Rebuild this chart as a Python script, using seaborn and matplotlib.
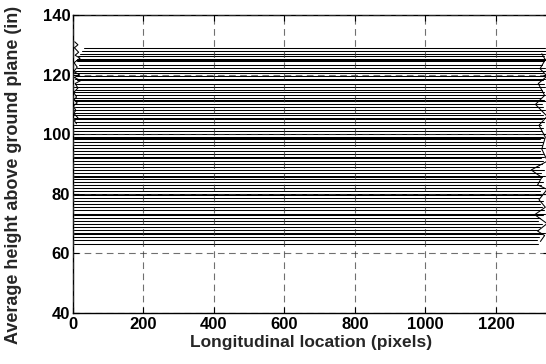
import matplotlib
matplotlib.use("Agg")
import matplotlib.pyplot as plt
import seaborn as sns
import pandas as pd

# Average height (in) of each horizontal trace
heights = [128.9, 128.0, 127.0, 126.2, 125.3, 124.8, 124.5, 123.3, 122.3, 121.3,
           120.4, 119.5, 118.4, 118.1, 117.0, 116.0, 115.0, 114.0, 113.1, 112.3,
           111.6, 111.3, 110.2, 109.2, 108.2, 107.2, 106.3, 105.5, 105.2, 104.1,
           103.0, 102.0, 101.0, 100.0, 99.2, 98.8, 98.5, 97.4, 96.4, 95.4,
           94.4, 93.4, 92.4, 92.1, 91.0, 90.0, 89.0, 88.0, 87.0, 86.1,
           85.8, 84.8, 83.8, 82.8, 81.8, 80.8, 80.0, 79.7, 78.6, 77.6,
           76.6, 75.6, 74.6, 73.3, 73.0, 72.0, 71.0, 70.0, 69.0, 68.0,
           66.9, 66.6, 65.6, 64.6, 63.2]
# Longitudinal start / end of each trace (pixels)
starts = [30, 25, 20, 15, 10, 8, 12, 18, 10, 6,
          4, 8, 5, 10, 6, 4, 8, 3, 6, 4,
          3, 5, 2, 6, 4, 3, 2, 4, 3, 5,
          3, 2, 4, 3, 2, 3, 2, 4, 3, 2,
          3, 4, 2, 3, 2, 3, 2, 4, 2, 3,
          2, 3, 2, 3, 2, 3, 2, 3, 2, 3,
          2, 3, 2, 3, 2, 3, 2, 3, 2, 3,
          2, 3, 2, 3, 2]
ends = [1340, 1342, 1338, 1335, 1340, 1343, 1336, 1330, 1340, 1342,
        1334, 1338, 1340, 1332, 1336, 1340, 1330, 1335, 1340, 1328,
        1336, 1342, 1330, 1334, 1338, 1326, 1332, 1340, 1330, 1336,
        1328, 1334, 1330, 1340, 1332, 1336, 1326, 1334, 1330, 1338,
        1326, 1332, 1336, 1328, 1334, 1330, 1322, 1336, 1328, 1340,
        1330, 1324, 1332, 1328, 1336, 1326, 1340, 1330, 1322, 1334,
        1326, 1330, 1336, 1340, 1332, 1326, 1320, 1330, 1324, 1318,
        1340, 1330, 1322, 1316, 1320]

# Small hand-read wiggles at the ragged ends of the traces
left_wig_x = [5, 14, 4, 16, 6, 20, 3, 12, 2, 18, 4, 22, 6, 14, 2, 10, 3, 12, 1, 8, 2, 14, 4, 10]
left_wig_y = [131, 130, 129, 127.5, 126.5, 125.5, 124, 122.5, 121, 120, 119, 118,
              117, 115.5, 114, 112.5, 111.5, 110.5, 109.5, 108, 107, 105.5, 104.5, 103.5]
right_wig_x = [1330, 1340, 1325, 1345, 1320, 1338, 1312, 1345, 1322, 1340, 1330, 1346,
               1300, 1330, 1318, 1345, 1322, 1340, 1310, 1345, 1318, 1338, 1326]
right_wig_y = [127, 125, 122, 119.5, 117, 113, 110, 106, 103, 99, 95, 91,
               88, 85.5, 83, 81.5, 78, 75.5, 73, 70, 67.5, 66, 64]

rows = []
for i, (h, s, e) in enumerate(zip(heights, starts, ends)):
    rows.append((i, s, h))
    rows.append((i, e, h))
n = len(heights)
for x, y in zip(left_wig_x, left_wig_y):
    rows.append((n, x, y))
for x, y in zip(right_wig_x, right_wig_y):
    rows.append((n + 1, x, y))
df = pd.DataFrame(rows, columns=["trace", "x", "y"])

sns.set_theme(style="white")
plt.rcParams["font.family"] = ["Liberation Sans", "DejaVu Sans"]
plt.rcParams["font.weight"] = "bold"

fig = plt.figure(figsize=(5.46, 3.64), dpi=100)
ax = fig.add_axes([73 / 546, 51 / 364, (548.5 - 73) / 546, 298 / 364])

sns.lineplot(data=df, x="x", y="y", units="trace", estimator=None, sort=False,
             color="black", linewidth=0.75, ax=ax, legend=False)

ax.set_xlim(0, 1349)
ax.set_ylim(40, 140)
ax.set_xticks(range(0, 1201, 200))
ax.set_yticks(range(40, 141, 20))
ax.grid(True, color="#333333", linestyle=(0, (6, 4)), linewidth=0.8, alpha=0.7)
ax.set_axisbelow(False)
for sp in ax.spines.values():
    sp.set_visible(True)
    sp.set_color("black")
    sp.set_linewidth(1.0)
ax.tick_params(direction="in", length=4, width=0.8, colors="black",
               labelsize=12, top=True, right=True, bottom=True, left=True, pad=2)
ax.tick_params(axis="x", pad=3)
for lbl in ax.get_xticklabels() + ax.get_yticklabels():
    lbl.set_fontweight("bold")
ax.set_xlabel("Longitudinal location (pixels)", fontsize=12.5, fontweight="bold", labelpad=2)
ax.set_ylabel("Average height above ground plane (in)", fontsize=13, fontweight="bold")
ax.yaxis.set_label_coords(-0.108, 0.463)
ax.set_facecolor("white")
fig.patch.set_facecolor("white")

fig.savefig("out.png", dpi=100)
